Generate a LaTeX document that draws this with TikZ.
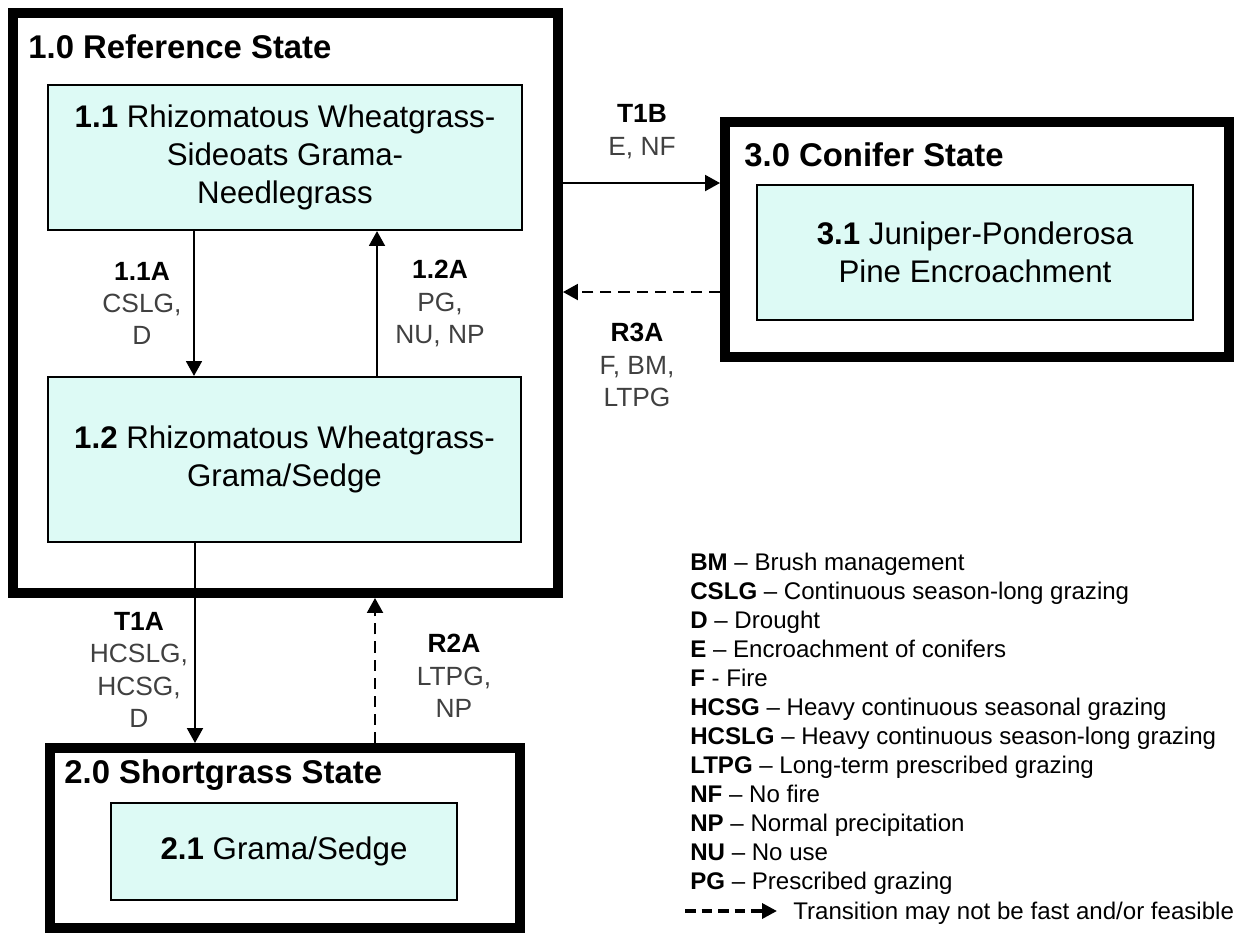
\documentclass[tikz,border=0pt]{standalone}
\usepackage{fontspec}
\setmainfont{Liberation Sans}
\usetikzlibrary{arrows.meta}
\definecolor{paleaqua}{RGB}{221,250,245}
\begin{document}
\begin{tikzpicture}[x=0.02cm, y=-0.02cm,
  statebox/.style={draw, line width=5.7pt, inner sep=0pt},
  commbox/.style={draw, line width=1.2pt, fill=paleaqua, align=center, inner sep=0pt,
    font=\fontsize{17.8}{21.6}\selectfont},
  statetitle/.style={anchor=west, inner sep=0pt, font=\fontsize{18.7}{22}\selectfont\bfseries},
  trlabel/.style={align=center, inner sep=0pt, text=black!75,
    font=\fontsize{15}{18.4}\selectfont},
  trarrow/.style={line width=1.4pt, -{Triangle[length=8.5pt,width=9pt]}},
  slow/.style={dash pattern=on 6.3pt off 4pt},
  legtext/.style={anchor=west, inner sep=0pt, text height=12.8pt, text depth=3pt,
    font=\fontsize{13.7}{16.5}\selectfont}]
\useasboundingbox (0,0) rectangle (1244,934);
\node[statebox, minimum width=10.9cm, minimum height=11.6cm] (s10) at (285.5,303) {};
\node[statebox, minimum width=10.08cm, minimum height=4.7cm] (s30) at (977,239.5) {};
\node[statebox, minimum width=9.4cm, minimum height=3.6cm] (s20) at (285,838) {};
\node[statetitle] (t10) at (28,47) {1.0 Reference State};
\node[statetitle] (t30) at (744,155) {3.0 Conifer State};
\node[statetitle] (t20) at (64,775) {2.0 Shortgrass State};
\node[commbox, minimum width=9.48cm, minimum height=2.9cm] (b11) at (285,157.5)
  {\textbf{1.1} Rhizomatous Wheatgrass-\\Sideoats Grama-\\Needlegrass};
\node[commbox, minimum width=9.46cm, minimum height=3.3cm] (b12) at (284.5,459.5)
  {\textbf{1.2} Rhizomatous Wheatgrass-\\Grama/Sedge};
\node[commbox, minimum width=8.72cm, minimum height=2.7cm] (b31) at (975,252.5)
  {\textbf{3.1} Juniper-Ponderosa\\Pine Encroachment};
\node[commbox, minimum width=6.92cm, minimum height=1.94cm] (b21) at (284,851.5)
  {\textbf{2.1} Grama/Sedge};
\coordinate (xa) at (194,0);
\coordinate (xb) at (377,0);
\coordinate (xc) at (195,0);
\coordinate (xd) at (375,0);
\coordinate (ya) at (0,183);
\coordinate (yb) at (0,292);
\draw[trarrow] (b11.south -| xa) -- (b12.north -| xa);
\draw[trarrow] (b12.north -| xb) -- (b11.south -| xb);
\draw[trarrow] (b12.south -| xc) -- (s20.north -| xc);
\draw[trarrow, slow] (s20.north -| xd) -- (s10.south -| xd);
\draw[trarrow] (s10.east |- ya) -- (s30.west |- ya);
\draw[trarrow, slow] (s30.west |- yb) -- (s10.east |- yb);
\node[trlabel] (l11a) at (142,303.5) {\textcolor{black}{\textbf{1.1A}}\\CSLG,\\D};
\node[trlabel] (l12a) at (440,303.5) {\textcolor{black}{\textbf{1.2A}}\\PG,\\NU, NP};
\node[trlabel] (lt1a) at (139,670) {\textcolor{black}{\textbf{T1A}}\\HCSLG,\\HCSG,\\D};
\node[trlabel] (lr2a) at (454,676) {\textcolor{black}{\textbf{R2A}}\\LTPG,\\NP};
\node[trlabel] (lt1b) at (642,131.5) {\textcolor{black}{\textbf{T1B}}\\E, NF};
\node[trlabel] (lr3a) at (637,365) {\textcolor{black}{\textbf{R3A}}\\F, BM,\\LTPG};
\foreach \ab/\txt [count=\i from 0] in
{BM/– Brush management, CSLG/– Continuous season-long grazing, D/– Drought,
 E/– Encroachment of conifers, F/- Fire, HCSG/– Heavy continuous seasonal grazing,
 HCSLG/– Heavy continuous season-long grazing, LTPG/– Long-term prescribed grazing,
 NF/– No fire, NP/– Normal precipitation, NU/– No use, PG/– Prescribed grazing}
\node[legtext] (leg\i) at (690,{562+29*\i}) {\textbf{\ab} \txt};
\coordinate (dashA) at (685,911);
\coordinate (dashB) at (777,911);
\draw[line width=2pt, dash pattern=on 6pt off 3.4pt, -{Triangle[length=8.5pt,width=8.5pt]}] (dashA) -- (dashB);
\node[legtext] (legnote) at (793,911) {Transition may not be fast and/or feasible};
\end{tikzpicture}
\end{document}
